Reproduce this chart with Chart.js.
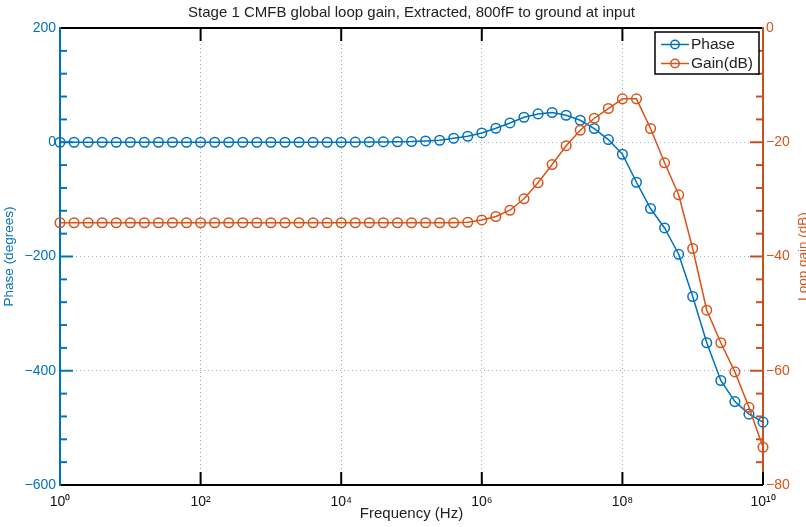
<!DOCTYPE html>
<html>
<head>
<meta charset="utf-8">
<script src="https://cdn.jsdelivr.net/npm/chart.js@4.4.1/dist/chart.umd.min.js"></script>
<style>
  body { margin: 0; background: #fff; }
</style>
</head>
<body>
<canvas id="bodeChart" width="806" height="527"></canvas>
<script>
// Frecuencias del barrido (5 puntos por década)
const freqHz = [
  1e0, 1.585e0, 2.512e0, 3.981e0, 6.31e0,
  1e1, 1.585e1, 2.512e1, 3.981e1, 6.31e1,
  1e2, 1.585e2, 2.512e2, 3.981e2, 6.31e2,
  1e3, 1.585e3, 2.512e3, 3.981e3, 6.31e3,
  1e4, 1.585e4, 2.512e4, 3.981e4, 6.31e4,
  1e5, 1.585e5, 2.512e5, 3.981e5, 6.31e5,
  1e6, 1.585e6, 2.512e6, 3.981e6, 6.31e6,
  1e7, 1.585e7, 2.512e7, 3.981e7, 6.31e7,
  1e8, 1.585e8, 2.512e8, 3.981e8, 6.31e8,
  1e9, 1.585e9, 2.512e9, 3.981e9, 6.31e9,
  1e10
];

// Fase (grados)
const phaseDeg = [
  0, 0, 0, 0, 0,
  0, 0, 0, 0, 0,
  0, 0, 0, 0, 0,
  0, 0, 0, 0, 0,
  0, 0.2, 0.4, 0.6, 0.9,
  1.2, 2.3, 3.5, 7, 10.5,
  16.3, 24.5, 33.8, 43.8, 49.6,
  52, 47.3, 38.5, 24, 4.7,
  -21, -70, -116, -150, -196,
  -270, -351, -417, -454, -476,
  -490
];

// Ganancia de lazo (dB)
const gainDb = [
  -34.1, -34.1, -34.1, -34.1, -34.1,
  -34.1, -34.1, -34.1, -34.1, -34.1,
  -34.1, -34.1, -34.1, -34.1, -34.1,
  -34.1, -34.1, -34.1, -34.1, -34.1,
  -34.1, -34.1, -34.1, -34.1, -34.1,
  -34.1, -34.1, -34.1, -34.1, -34.0,
  -33.6, -33.0, -31.9, -29.9, -27.1,
  -23.9, -20.6, -17.9, -15.8, -14.1,
  -12.4, -12.4, -17.6, -23.6, -29.2,
  -38.6, -49.4, -55.1, -60.2, -66.4,
  -73.4
];

const xTicks = [1e0, 1e2, 1e4, 1e6, 1e8, 1e10];
const xTickLabels = ['10⁰', '10²', '10⁴', '10⁶', '10⁸', '10¹⁰'];
const phaseTicks = [-600, -400, -200, 0, 200];
const gainTicks = [-80, -60, -40, -20, 0];

const AZUL = '#0072BD';
const NARANJA = '#D95319';
const EJE_NARANJA = '#C9501E';
const FUENTE = '"Liberation Sans", Arial, Helvetica, sans-serif';

const menos = v => String(v).replace('-', '\u2212');

// Ejes estilo MATLAB: marcas hacia dentro, menores y marco
const marcos = {
  id: 'marcos',
  beforeDatasetsDraw(chart) {
    const { ctx, chartArea: a, scales } = chart;
    const linea = (x1, y1, x2, y2) => {
      ctx.beginPath();
      ctx.moveTo(x1, y1);
      ctx.lineTo(x2, y2);
      ctx.stroke();
    };
    ctx.save();
    ctx.lineWidth = 2;

    // marcas eje izquierdo (fase)
    ctx.strokeStyle = AZUL;
    for (let v = -600; v <= 200; v += 40) {
      const y = scales.yPhase.getPixelForValue(v);
      linea(a.left, y, a.left + (v % 200 === 0 ? 13 : 7), y);
    }
    // marcas eje derecho (ganancia)
    ctx.strokeStyle = EJE_NARANJA;
    for (let v = -80; v <= 0; v += 4) {
      const y = scales.yGain.getPixelForValue(v);
      linea(a.right, y, a.right - (v % 20 === 0 ? 13 : 7), y);
    }
    // marcas eje x arriba y abajo
    ctx.strokeStyle = '#000';
    xTicks.forEach(f => {
      const x = scales.x.getPixelForValue(f);
      linea(x, a.bottom, x, a.bottom - 13);
      if (f > 1 && f < 1e10) linea(x, a.top, x, a.top + 13);
    });

    // marco
    linea(a.left, a.top, a.right, a.top);
    linea(a.left, a.bottom, a.right, a.bottom);
    ctx.strokeStyle = AZUL;
    linea(a.left, a.top - 1, a.left, a.bottom + 1);
    ctx.strokeStyle = EJE_NARANJA;
    linea(a.right, a.top - 1, a.right, a.bottom - 13);

    // título eje derecho (girado como en MATLAB)
    ctx.fillStyle = NARANJA;
    ctx.font = '13.5px ' + FUENTE;
    ctx.textAlign = 'center';
    ctx.textBaseline = 'middle';
    ctx.translate(803, (a.top + a.bottom) / 2);
    ctx.rotate(-Math.PI / 2);
    ctx.fillText('Loop gain (dB)', 0, 0);
    ctx.restore();
  }
};

// Leyenda con recuadro dentro del área
const leyenda = {
  id: 'leyenda',
  afterDatasetsDraw(chart) {
    const { ctx } = chart;
    const x0 = 655, y0 = 32, w = 104, h = 42;
    ctx.save();
    ctx.fillStyle = '#fff';
    ctx.fillRect(x0, y0, w, h);
    ctx.strokeStyle = '#000';
    ctx.lineWidth = 1.5;
    ctx.strokeRect(x0, y0, w, h);
    chart.data.datasets.forEach((ds, i) => {
      const y = y0 + 12.5 + i * 19;
      ctx.strokeStyle = ds.borderColor;
      ctx.lineWidth = 1.5;
      ctx.beginPath();
      ctx.moveTo(x0 + 6, y);
      ctx.lineTo(x0 + 34, y);
      ctx.stroke();
      ctx.beginPath();
      ctx.arc(x0 + 20, y, 4.2, 0, Math.PI * 2);
      ctx.stroke();
      ctx.fillStyle = '#222';
      ctx.font = '15.5px ' + FUENTE;
      ctx.textAlign = 'left';
      ctx.textBaseline = 'middle';
      ctx.fillText(ds.label, x0 + 36, y + 0.5);
    });
    ctx.restore();
  }
};

const ctx = document.getElementById('bodeChart').getContext('2d');
const bodeChart = new Chart(ctx, {
  type: 'line',
  data: {
    datasets: [
      {
        label: 'Phase',
        data: freqHz.map((f, i) => ({ x: f, y: phaseDeg[i] })),
        yAxisID: 'yPhase',
        borderColor: AZUL,
        borderWidth: 1.5,
        pointRadius: 4.8,
        pointBorderWidth: 1.5,
        pointBackgroundColor: 'rgba(0,0,0,0)',
        pointBorderColor: AZUL,
        tension: 0,
        clip: false,
        order: 1
      },
      {
        label: 'Gain(dB)',
        data: freqHz.map((f, i) => ({ x: f, y: gainDb[i] })),
        yAxisID: 'yGain',
        borderColor: NARANJA,
        borderWidth: 1.5,
        pointRadius: 4.8,
        pointBorderWidth: 1.5,
        pointBackgroundColor: 'rgba(0,0,0,0)',
        pointBorderColor: NARANJA,
        tension: 0,
        clip: false,
        order: 0
      }
    ]
  },
  options: {
    responsive: false,
    animation: false,
    devicePixelRatio: 1,
    layout: { padding: 0 },
    plugins: {
      legend: { display: false },
      tooltip: { enabled: false },
      title: {
        display: true,
        text: 'Stage 1 CMFB global loop gain, Extracted, 800fF to ground at input',
        fullSize: false,
        color: '#222',
        font: { family: FUENTE, size: 15, weight: 'normal' },
        padding: { top: 4, bottom: 6 }
      }
    },
    scales: {
      x: {
        type: 'logarithmic',
        position: 'bottom',
        min: 1,
        max: 1e10,
        afterBuildTicks: s => { s.ticks = xTicks.map(v => ({ value: v })); },
        afterFit: s => { s.height = 42; },
        ticks: {
          autoSkip: false,
          maxRotation: 0,
          padding: 9,
          color: '#111',
          font: { family: FUENTE, size: 14 },
          callback: (v, i) => xTickLabels[i]
        },
        grid: {
          drawTicks: false,
          lineWidth: 1,
          color: c => (c.tick && c.tick.value > 1 && c.tick.value < 1e10) ? '#a8a8a8' : 'rgba(0,0,0,0)'
        },
        border: { display: false, dash: [1, 3] },
        title: {
          display: true,
          text: 'Frequency (Hz)',
          color: '#222',
          font: { family: FUENTE, size: 15 },
          padding: { top: 0, bottom: 4 }
        }
      },
      yPhase: {
        type: 'linear',
        position: 'left',
        min: -600,
        max: 200,
        afterBuildTicks: s => { s.ticks = phaseTicks.map(v => ({ value: v })); },
        afterFit: s => { s.width = 60; },
        ticks: {
          padding: 4,
          color: AZUL,
          font: { family: FUENTE, size: 14 },
          callback: v => menos(v)
        },
        grid: {
          drawTicks: false,
          lineWidth: 1,
          color: c => (c.tick && c.tick.value > -600 && c.tick.value < 200) ? '#8fb3dd' : 'rgba(0,0,0,0)'
        },
        border: { display: false, dash: [1, 3] },
        title: {
          display: true,
          text: 'Phase (degrees)',
          color: AZUL,
          font: { family: FUENTE, size: 13.5 },
          padding: { top: 1, bottom: 0 }
        }
      },
      yGain: {
        type: 'linear',
        position: 'right',
        min: -80,
        max: 0,
        afterBuildTicks: s => { s.ticks = gainTicks.map(v => ({ value: v })); },
        afterFit: s => { s.width = 43; },
        ticks: {
          padding: 3,
          color: NARANJA,
          font: { family: FUENTE, size: 14 },
          callback: v => menos(v)
        },
        grid: { display: false, drawTicks: false },
        border: { display: false }
      }
    }
  },
  plugins: [marcos, leyenda]
});
</script>
</body>
</html>
